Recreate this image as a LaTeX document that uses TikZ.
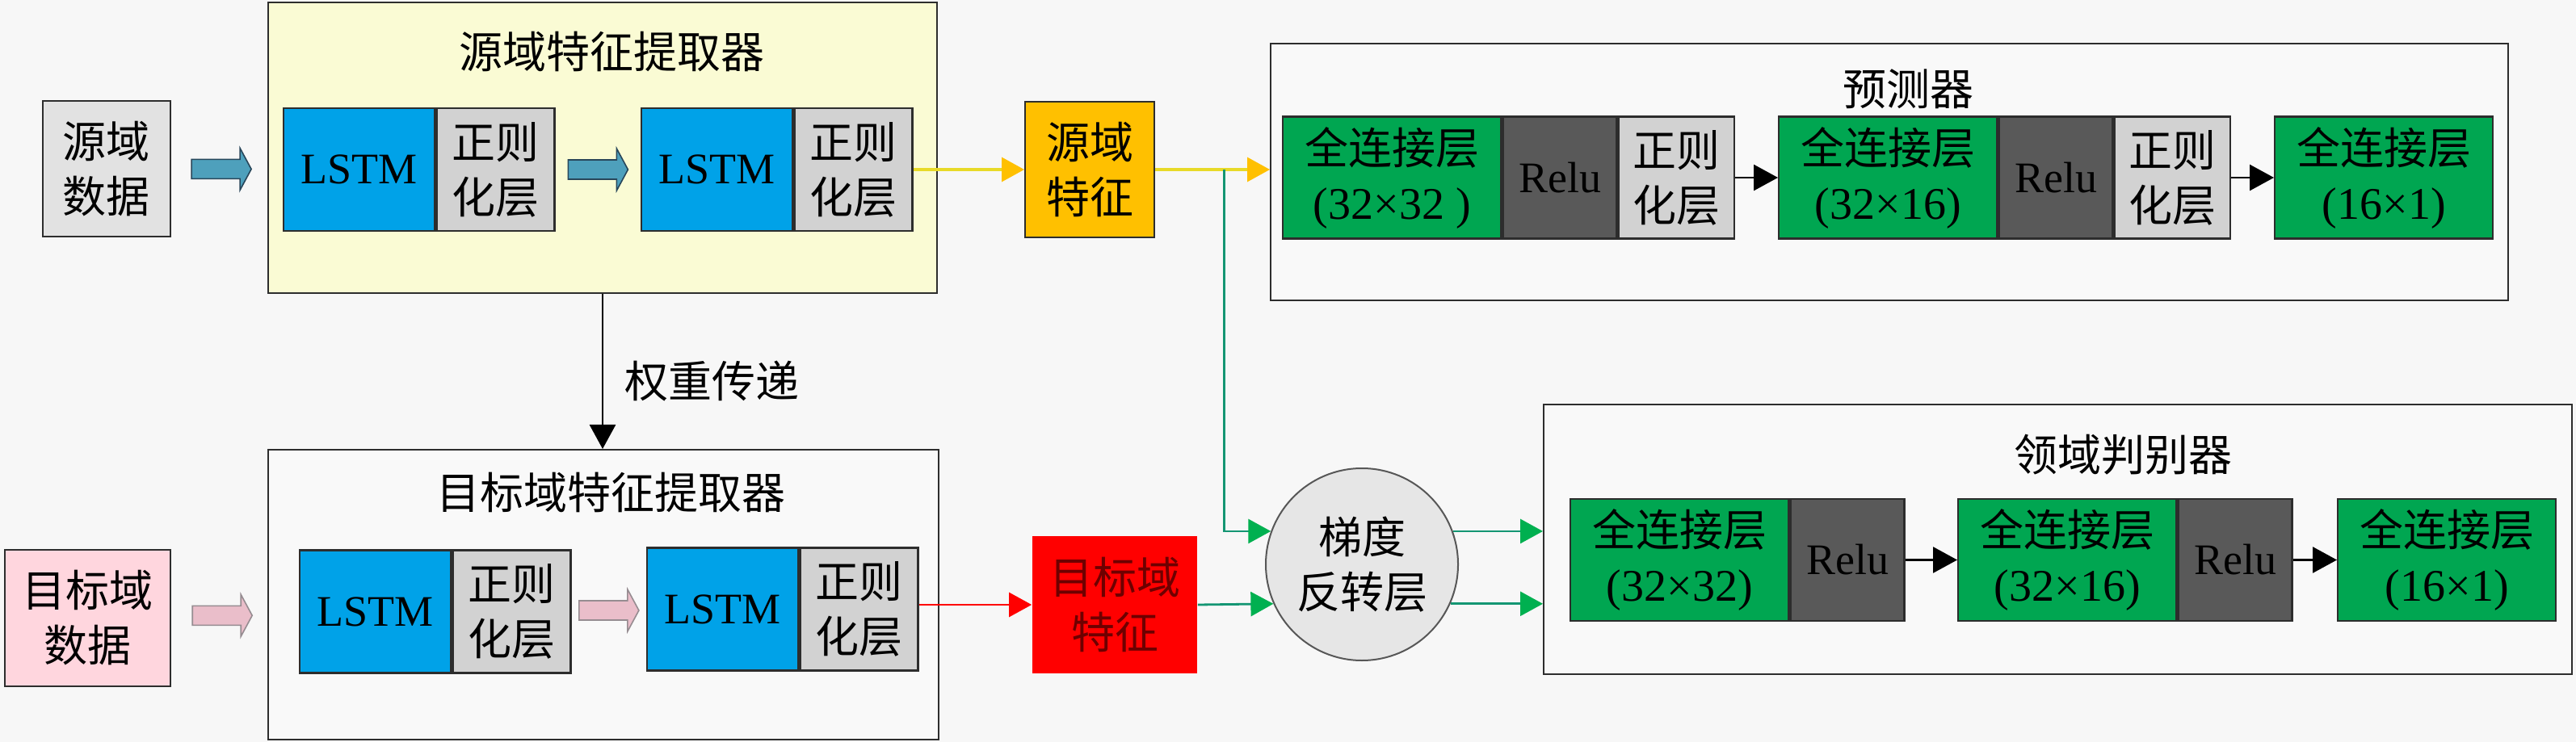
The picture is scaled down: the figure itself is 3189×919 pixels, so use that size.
\documentclass[tikz,border=0pt]{standalone}
\usepackage{fontspec}
\setmainfont{Liberation Serif}
\newfontfamily\cjk{Noto Sans CJK SC}
\newcommand\zh[1]{{\cjk #1}}
\newcommand\nm[1]{{\fontsize{14}{17}\selectfont #1}}
\usetikzlibrary{arrows.meta,calc}
\definecolor{bgc}{RGB}{247,247,247}
\definecolor{boxc}{RGB}{249,249,249}
\definecolor{yellowc}{RGB}{250,251,212}
\definecolor{bluec}{RGB}{0,162,232}
\definecolor{regc}{RGB}{210,210,210}
\definecolor{srcgray}{RGB}{226,226,226}
\definecolor{pinkc}{RGB}{255,214,222}
\definecolor{orangec}{RGB}{255,192,0}
\definecolor{ylinec}{RGB}{232,218,40}
\definecolor{redc}{RGB}{255,0,0}
\definecolor{darkred}{RGB}{110,0,0}
\definecolor{greenc}{RGB}{0,166,81}
\definecolor{reluc}{RGB}{89,89,89}
\definecolor{glinec}{RGB}{20,150,115}
\definecolor{gheadc}{RGB}{0,176,80}
\definecolor{circc}{RGB}{230,230,230}
\definecolor{edgec}{RGB}{45,45,45}
\definecolor{tealc}{RGB}{78,160,188}
\definecolor{tealb}{RGB}{40,70,90}
\definecolor{pinka}{RGB}{234,190,202}
\definecolor{pinkb}{RGB}{150,140,145}
\tikzset{
  pics/fatarr/.style 2 args={code={
    \draw[fill=#1,draw=#2,line width=0.4pt] (-37,-12) -- (23,-12) -- (23,-26) -- (37,0) -- (23,26) -- (23,12) -- (-37,12) -- cycle;}},
  bigbox/.style={draw=edgec, line width=0.5pt},
  blk/.style={draw=edgec, line width=0.6pt, minimum height=38pt},
  lstm/.style={blk, fill=bluec, minimum width=46.75pt},
  reg/.style={blk, fill=regc, minimum width=36.5pt},
  fc/.style={blk, fill=greenc, minimum width=67.5pt, minimum height=37.75pt},
  relu/.style={blk, fill=reluc, minimum width=35.25pt, minimum height=37.75pt},
  reg2/.style={blk, fill=regc, minimum width=35.75pt, minimum height=37.75pt},
  databox/.style={draw=edgec, line width=0.5pt},
  yl/.style={draw=ylinec, line width=0.8pt, -{Triangle[length=7pt,width=7.5pt,color=orangec]}},
  gl/.style={draw=glinec, line width=0.7pt, -{Triangle[length=7pt,width=7.5pt,color=gheadc]}},
  rl/.style={draw=redc, line width=0.7pt, -{Triangle[length=7pt,width=7.5pt,color=redc]}},
  bl/.style={draw=black, line width=0.7pt, -{Triangle[length=7.5pt,width=8pt]}}
}
\begin{document}
\begin{tikzpicture}[x=0.25pt,y=-0.25pt, every node/.style={font=\fontsize{13.5}{17}\selectfont, inner sep=0pt, align=center}]
\fill[bgc] (0,0) rectangle (3189,919);
\useasboundingbox (0,0) rectangle (3189,919);

% big boxes
\node[bigbox, fill=yellowc, minimum width=207pt, minimum height=90pt] (srcext) at (746,183) {};
\node[bigbox, fill=boxc, minimum width=207.5pt, minimum height=89.75pt] (tgtext) at (747,736.5) {};
\node[bigbox, fill=boxc, minimum width=383pt, minimum height=79.5pt] (pred) at (2339,213) {};
\node[bigbox, fill=boxc, minimum width=318.25pt, minimum height=83.5pt] (dom) at (2547.5,668) {};

% titles
\node (srctitle) at (757,64) {\zh{源域特征提取器}};
\node (tgttitle) at (756,610) {\zh{目标域特征提取器}};
\node (predtitle) at (2362,110) {\zh{预测器}};
\node (domtitle) at (2628,563) {\zh{领域判别器}};

% data boxes
\node[databox, fill=srcgray, minimum width=39.5pt, minimum height=42pt] (srcdata) at (132,209) {\zh{源域}\\\zh{数据}};
\node[databox, fill=pinkc, minimum width=51.25pt, minimum height=42.25pt] (tgtdata) at (108.5,765.5) {\zh{目标域}\\\zh{数据}};

% LSTM blocks
\node[lstm, anchor=west] (s1l) at (350,210) {LSTM};
\node[reg, anchor=west] (s1r) at (s1l.east) {\zh{正则}\\\zh{化层}};
\node[lstm, anchor=west] (s2l) at (793,210) {LSTM};
\node[reg, anchor=west] (s2r) at (s2l.east) {\zh{正则}\\\zh{化层}};
\node[lstm, anchor=west] (t1l) at (370,757.5) {LSTM};
\node[reg, anchor=west] (t1r) at (t1l.east) {\zh{正则}\\\zh{化层}};
\node[lstm, anchor=west] (t2l) at (800,754.5) {LSTM};
\node[reg, anchor=west] (t2r) at (t2l.east) {\zh{正则}\\\zh{化层}};

% fat arrows
\pic at ($(srcdata.east)!0.45!(s1l.west)$) {fatarr={tealc}{tealb}};
\pic at ($(s1r.east)!0.5!(s2l.west)$) {fatarr={tealc}{tealb}};
\pic at ($(tgtdata.east)!0.4!(t1l.west)$) {fatarr={pinka}{pinkb}};
\pic at ($(t1r.east)!0.5!(t2l.west)$) {fatarr={pinka}{pinkb}};

% features
\node[databox, fill=orangec, minimum width=40pt, minimum height=42pt] (srcfeat) at (1349,210) {\zh{源域}\\\zh{特征}};
\node[fill=redc, text=darkred, minimum width=51pt, minimum height=42.5pt] (tgtfeat) at (1380,749) {\zh{目标域}\\\zh{特征}};

% gradient reversal
\node[circle, draw=edgec!80, line width=0.5pt, fill=circc, minimum size=59.5pt] (grl) at (1686,699) {\zh{梯度}\\\zh{反转层}};

% predictor blocks
\node[fc, anchor=west] (p1f) at (1587,220) {\zh{全连接层}\\\nm{(32×32 )}};
\node[relu, anchor=west] (p1r) at (p1f.east) {Relu};
\node[reg2, anchor=west] (p1g) at (p1r.east) {\zh{正则}\\\zh{化层}};
\node[fc, anchor=west] (p2f) at (2201,220) {\zh{全连接层}\\\nm{(32×16)}};
\node[relu, anchor=west] (p2r) at (p2f.east) {Relu};
\node[reg2, anchor=west] (p2g) at (p2r.east) {\zh{正则}\\\zh{化层}};
\node[fc, anchor=west] (p3f) at (2815,220) {\zh{全连接层}\\\nm{(16×1)}};

% domain blocks
\node[fc, anchor=west] (d1f) at (1943,693.5) {\zh{全连接层}\\\nm{(32×32)}};
\node[relu, anchor=west] (d1r) at (d1f.east) {Relu};
\node[fc, anchor=west] (d2f) at (2423,693.5) {\zh{全连接层}\\\nm{(32×16)}};
\node[relu, anchor=west] (d2r) at (d2f.east) {Relu};
\node[fc, anchor=west] (d3f) at (2893,693.5) {\zh{全连接层}\\\nm{(16×1)}};

% connectors
\draw[yl] (s2r.east) -- (srcfeat.west);
\draw[yl] (srcfeat.east) -- (srcfeat.east -| pred.west);
\coordinate (br) at ($(srcfeat.east)!0.6!(srcfeat.east -| pred.west)$);
\draw[gl] (br) |- (grl.160);
\draw[rl] (t2r.east |- tgtfeat.west) -- (tgtfeat.west);
\draw[gl] (tgtfeat.east) -- (grl.204.8);
\draw[gl] (grl.20) -- (grl.20 -| dom.west);
\draw[gl] (grl.-24.8) -- (grl.-24.8 -| dom.west);

\draw[bl] (p1g.east) -- (p2f.west);
\draw[bl] (p2g.east) -- (p3f.west);
\draw[bl] (d1r.east) -- (d2f.west);
\draw[bl] (d2r.east) -- (d3f.west);

\draw[bl] (srcext.south) -- (srcext.south |- tgtext.north);
\node[anchor=west] (wlabel) at (773,472) {\zh{权重传递}};
\end{tikzpicture}
\end{document}
